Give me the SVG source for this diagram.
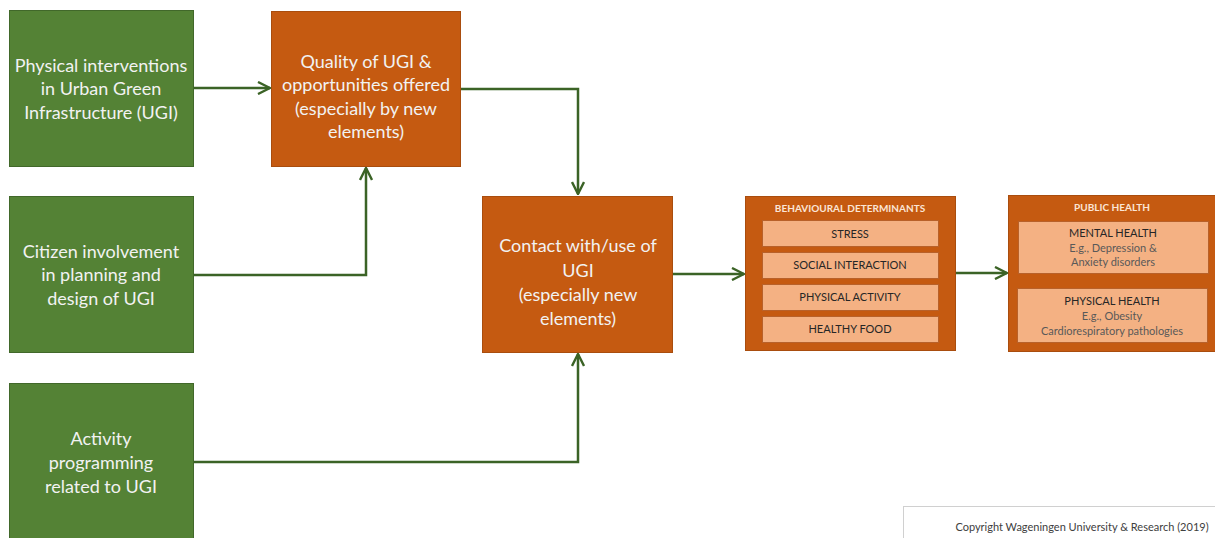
<svg xmlns="http://www.w3.org/2000/svg" width="1215" height="538" viewBox="0 0 1215 538">
<defs>
<style>
.g{fill:#548235;stroke:#41682A;stroke-width:1}
.o{fill:#C55A11;stroke:#A94D0E;stroke-width:1}
.i{fill:#F4B183;stroke:#B8612A;stroke-width:1}
.t{font-family:Lato,"Open Sans",sans-serif;font-size:18px;fill:#F2F2F2;text-anchor:middle}
.h{font-family:Lato,"Open Sans",sans-serif;font-size:10px;font-weight:bold;fill:#FBE5D6;text-anchor:middle}
.s{font-family:Lato,"Open Sans",sans-serif;font-size:11px;fill:#262626;text-anchor:middle}
.s2{font-family:Lato,"Open Sans",sans-serif;font-size:11px;fill:#595959;text-anchor:middle}
.c{fill:none;stroke:#3B6326;stroke-width:2.5}
</style>
<marker id="a" viewBox="0 0 14 14" refX="13" refY="7" markerWidth="14" markerHeight="14" markerUnits="userSpaceOnUse" orient="auto">
<path d="M1,1 L13,7 L1,13" fill="none" stroke="#3B6326" stroke-width="2.4"/>
</marker>
</defs>
<rect width="1215" height="538" fill="#FFFFFF"/>
<g id="connectors">
<path class="c" d="M194,88 H270" marker-end="url(#a)"/>
<path class="c" d="M461,89 H578 V194" marker-end="url(#a)"/>
<path class="c" d="M194,275 H366 V168" marker-end="url(#a)"/>
<path class="c" d="M194,462 H578 V354" marker-end="url(#a)"/>
<path class="c" d="M673,274 H744" marker-end="url(#a)"/>
<path class="c" d="M956,273 H1007" marker-end="url(#a)"/>
</g>
<g id="physical-interventions">
<rect class="g" x="9.5" y="10.5" width="184" height="156"/>
<text class="t" x="101" y="72">Physical interventions</text>
<text class="t" x="101" y="95">in Urban Green</text>
<text class="t" x="101" y="119">Infrastructure (UGI)</text>
</g>
<g id="citizen-involvement">
<rect class="g" x="9.5" y="196.5" width="184" height="156"/>
<text class="t" x="101" y="258">Citizen involvement</text>
<text class="t" x="101" y="281">in planning and</text>
<text class="t" x="101" y="305">design of UGI</text>
</g>
<g id="activity-programming">
<rect class="g" x="9.5" y="383.5" width="184" height="160"/>
<text class="t" x="101" y="445">Activity</text>
<text class="t" x="101" y="469">programming</text>
<text class="t" x="101" y="493">related to UGI</text>
</g>
<g id="quality">
<rect class="o" x="271.5" y="11.5" width="189" height="155"/>
<text class="t" x="366" y="68">Quality of UGI &amp;</text>
<text class="t" x="366" y="91">opportunities offered</text>
<text class="t" x="366" y="115">(especially by new</text>
<text class="t" x="366" y="138">elements)</text>
</g>
<g id="contact">
<rect class="o" x="482.5" y="196.5" width="190" height="156"/>
<text class="t" x="578" y="252">Contact with/use of</text>
<text class="t" x="578" y="277">UGI</text>
<text class="t" x="578" y="301">(especially new</text>
<text class="t" x="578" y="325">elements)</text>
</g>
<g id="behavioural-determinants">
<rect class="o" x="745.5" y="196.5" width="210" height="154"/>
<text class="h" x="850" y="212">BEHAVIOURAL DETERMINANTS</text>
<rect class="i" x="762.5" y="220.5" width="176" height="26"/>
<text class="s" x="850" y="237.5">STRESS</text>
<rect class="i" x="762.5" y="252.5" width="176" height="26"/>
<text class="s" x="850" y="269">SOCIAL INTERACTION</text>
<rect class="i" x="762.5" y="284.5" width="176" height="26"/>
<text class="s" x="850" y="301">PHYSICAL ACTIVITY</text>
<rect class="i" x="762.5" y="316.5" width="176" height="26"/>
<text class="s" x="850" y="333">HEALTHY FOOD</text>
</g>
<g id="public-health">
<rect class="o" x="1008.5" y="195.5" width="207" height="156"/>
<text class="h" x="1112" y="211">PUBLIC HEALTH</text>
<rect class="i" x="1018.5" y="221.5" width="190" height="52"/>
<text class="s" x="1113" y="237">MENTAL HEALTH</text>
<text class="s2" x="1113" y="252">E.g., Depression &amp;</text>
<text class="s2" x="1113" y="266">Anxiety disorders</text>
<rect class="i" x="1017.5" y="288.5" width="190" height="54"/>
<text class="s" x="1112" y="305">PHYSICAL HEALTH</text>
<text class="s2" x="1112" y="320">E.g., Obesity</text>
<text class="s2" x="1112" y="335">Cardiorespiratory pathologies</text>
</g>
<g id="copyright">
<rect x="903.5" y="506.5" width="320" height="40" fill="#FFFFFF" stroke="#D0D0D0" stroke-width="1"/>
<text x="1082" y="531" font-family="Lato,'Open Sans',sans-serif" font-size="11" fill="#404040" text-anchor="middle">Copyright Wageningen University &amp; Research (2019)</text>
</g>
</svg>
